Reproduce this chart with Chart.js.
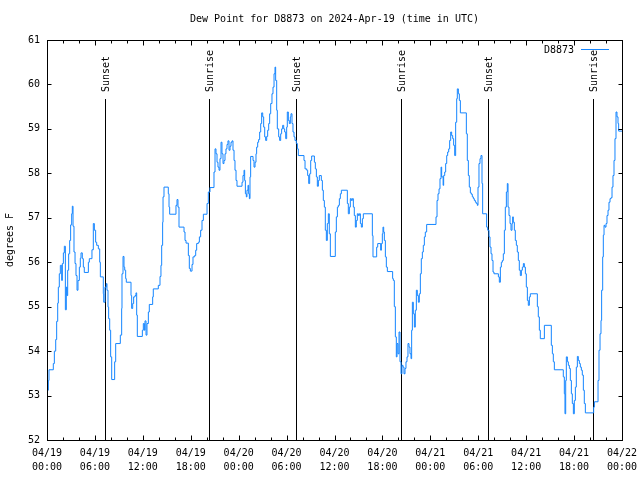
<!DOCTYPE html>
<html>
<head>
<meta charset="utf-8">
<script src="https://cdn.jsdelivr.net/npm/chart.js"></script>
<style>
  body { margin: 0; background: #fff; }
  canvas { display: block; }
</style>
</head>
<body>
<canvas id="dewChart" width="640" height="480"></canvas>
<script>
// hours since 04/19 00:00 UTC, and dew point (degrees F)
const hoursUTC = [
  0.08, 0.17, 0.25, 0.79, 0.92, 1.09, 1.21, 1.34, 1.42, 1.54, 1.67, 1.84, 1.92, 2.05, 2.17, 2.30, 2.42, 2.50, 2.59, 2.71,
  2.84, 2.96, 3.09, 3.17, 3.26, 3.38, 3.51, 3.63, 3.76, 3.88, 4.05, 4.17, 4.26, 4.42, 4.55, 4.67, 5.18, 5.30, 5.63, 5.80,
  5.93, 6.09, 6.22, 6.43, 6.60, 6.68, 7.05, 7.10, 7.26, 7.43, 7.51, 7.64, 7.72, 7.85, 7.97, 8.10, 8.47, 8.60, 9.18, 9.35,
  9.39, 9.52, 9.64, 9.73, 9.85, 9.93, 10.52, 10.60, 10.73, 10.85, 11.02, 11.14, 11.23, 11.31, 11.94, 12.06, 12.19, 12.27, 12.40, 12.52,
  12.69, 12.81, 13.23, 13.31, 13.94, 14.15, 14.27, 14.36, 14.48,
  14.53, 14.65, 15.19, 15.28, 15.36, 16.15, 16.28, 16.40, 16.53, 17.16, 17.28, 17.41, 17.70, 17.82, 17.95, 18.16, 18.28, 18.49, 18.62, 18.74,
  18.95, 19.08, 19.24, 19.41, 19.58, 20.04, 20.20, 20.41, 20.91, 21.04, 21.16, 21.29, 21.41, 21.54, 21.66, 21.79, 21.91, 22.04, 22.16, 22.29,
  22.41, 22.54, 22.66, 22.79, 22.92, 23.04, 23.17, 23.29, 23.42, 23.54, 23.67, 23.79, 24.42, 24.54, 24.67, 24.75, 24.84, 24.96, 25.04, 25.17,
  25.25, 25.34, 25.42, 25.50, 25.80, 25.92, 26.05, 26.17, 26.25, 26.38, 26.50, 26.63, 26.76, 26.88, 27.01, 27.13, 27.26, 27.38, 27.51, 27.63,
  27.76, 27.88, 28.01, 28.17, 28.30, 28.43, 28.55, 28.63, 28.76, 28.84,
  29.01, 29.13, 29.26, 29.38, 29.51, 29.64, 29.76, 29.89, 30.01, 30.09, 30.22, 30.34, 30.47, 30.55, 30.68, 30.80, 30.93, 31.05, 31.22, 31.35,
  31.47, 32.18, 32.31, 32.52, 32.64, 32.77, 32.89, 33.02, 33.14, 33.48, 33.60, 33.73, 33.85, 33.98, 34.10, 34.35, 34.48, 34.60, 34.73, 34.85,
  34.98, 35.10, 35.23, 35.35, 35.48, 36.10, 36.23, 36.36, 36.48, 36.61, 36.73, 36.86, 37.61, 37.73, 37.86, 37.98, 38.11, 38.23, 38.36, 38.48,
  38.61, 38.73, 38.86, 38.99, 39.11, 39.24, 39.36, 39.49, 39.61, 40.74, 40.82, 41.28, 41.41, 41.78, 41.87, 41.99, 42.07, 42.16, 42.24, 42.37,
  42.49, 42.62, 43.28,
  43.37, 43.49, 43.62, 43.74, 43.83, 43.95, 44.08, 44.20, 44.33, 44.45, 44.58, 44.70, 44.83, 44.95, 45.08, 45.20, 45.33, 45.45, 45.58, 45.66,
  45.75, 45.87, 46.00, 46.12, 46.25, 46.37, 46.50, 46.62, 46.75, 46.87, 47.00, 47.12, 47.25, 47.37, 47.54, 48.71, 48.84, 48.96, 49.09, 49.21,
  49.34, 49.42, 49.60, 49.67, 49.80, 49.92, 50.05, 50.17, 50.30, 50.42, 50.55, 50.67, 50.80, 50.92, 51.05, 51.17, 51.30, 51.38, 51.51, 51.63,
  51.76, 52.51, 52.63, 52.76, 52.88, 53.01, 53.13, 53.26, 53.39, 53.51, 53.64, 53.76, 53.89, 53.97, 54.09, 54.22, 54.34, 54.47, 54.55, 55.05,
  55.18, 55.35, 55.47, 55.60, 55.72, 55.85, 55.97, 56.52, 56.64, 56.77, 56.89, 57.02, 57.14, 57.27, 57.39, 57.52, 57.64,
  57.73, 57.85, 57.98, 58.10, 58.23, 58.31, 58.39, 58.52, 58.64, 58.77, 58.89, 59.02, 59.14, 59.27, 59.40, 59.52, 59.65, 59.77, 59.90, 60.02,
  60.15, 60.27, 60.40, 60.52, 61.40, 61.52, 61.65, 61.77, 62.28, 63.15, 63.28, 63.40, 63.53, 64.65, 64.78, 64.86, 64.95, 65.03, 65.16, 65.28,
  65.41, 65.53, 65.66, 65.78, 65.91, 66.03, 66.16, 66.28, 66.41, 66.53, 66.66, 66.78, 66.91, 67.03, 67.16, 67.28, 67.41, 68.45, 68.54, 69.00,
  69.12, 69.25, 69.37, 69.45, 69.58, 69.66, 69.75, 69.87, 70.00, 70.12, 70.25, 70.37, 70.50, 70.62, 70.75, 70.87, 71.00, 71.12, 71.25, 71.37,
  71.50, 71.58, 72.00
];
const dewPointF = [
  53.12, 53.34, 53.58, 53.72, 54.00, 54.26, 54.67, 55.08, 55.44, 55.74, 55.93, 55.59, 55.97, 56.21, 56.36, 54.93, 55.44, 55.25, 55.82, 56.19,
  56.49, 56.84, 57.09, 57.26, 56.81, 56.23, 55.97, 55.70, 55.37, 55.59, 55.89, 56.09, 56.21, 56.08, 55.89, 55.77, 56.00, 56.08, 56.28, 56.87,
  56.72, 56.45, 56.38, 56.30, 56.00, 55.67, 55.29, 55.10, 55.44, 55.52, 55.37, 54.99, 54.73, 54.47, 53.87, 53.36, 53.76, 54.17, 54.36, 54.96,
  55.74, 56.13, 55.89, 55.82, 55.63, 55.55, 55.25, 54.96, 55.07, 55.22, 55.25, 55.31, 54.81, 54.33, 54.47, 54.62, 54.47, 54.68, 54.36, 54.62,
  54.88, 55.05, 55.22, 55.40, 55.48, 55.68, 55.93, 56.38, 56.90,
  57.47, 57.69, 57.54, 57.24, 57.08, 57.28, 57.41, 57.24, 56.79, 56.68, 56.49, 56.43, 56.15, 55.86, 55.80, 55.95, 56.12, 56.15, 56.27, 56.42,
  56.45, 56.57, 56.72, 56.94, 57.08, 57.32, 57.58, 57.68, 58.03, 58.55, 58.44, 58.25, 58.14, 58.07, 58.33, 58.70, 58.44, 58.22, 58.29, 58.44,
  58.55, 58.65, 58.73, 58.52, 58.61, 58.70, 58.73, 58.52, 58.29, 58.07, 57.84, 57.71, 57.80, 57.95, 58.07, 57.84, 57.54, 57.47, 57.62, 57.73,
  57.54, 57.43, 57.92, 58.38, 58.29, 58.14, 58.25, 58.44, 58.59, 58.70, 58.76, 58.93, 59.12, 59.36, 59.27, 59.04, 58.82, 58.74, 58.83, 58.97,
  59.12, 59.34, 59.57, 59.79, 59.94, 60.24, 60.39, 60.09, 59.42, 59.00,
  58.82, 58.74, 58.89, 59.00, 59.08, 59.00, 58.93, 58.78, 59.04, 59.38, 59.19, 59.12, 59.27, 59.34, 59.12, 58.93, 58.82, 58.74, 58.67, 58.55,
  58.40, 58.29, 58.10, 58.07, 57.95, 57.77, 57.99, 58.29, 58.39, 58.25, 58.10, 57.92, 57.71, 57.84, 57.95, 57.84, 57.62, 57.39, 57.24, 56.72,
  56.49, 56.87, 57.09, 56.64, 56.13, 56.68, 57.02, 57.24, 57.28, 57.43, 57.54, 57.62, 57.32, 57.09, 57.24, 57.43, 57.39, 57.43, 57.24, 57.05,
  56.79, 56.94, 57.09, 57.05, 57.09, 56.87, 56.79, 56.98, 57.09, 56.60, 56.12, 56.34, 56.42, 56.27, 56.42, 56.64, 56.79, 56.68, 56.49, 56.12,
  55.89, 55.79, 55.63,
  55.59, 55.00, 54.32, 53.87, 54.17, 53.94, 54.43, 53.76, 53.49, 53.68, 53.64, 53.49, 53.61, 53.76, 53.87, 54.17, 54.09, 53.94, 53.83, 54.47,
  55.10, 54.84, 54.54, 54.92, 55.37, 55.25, 55.10, 55.29, 55.74, 56.08, 56.23, 56.38, 56.57, 56.68, 56.85, 57.02, 57.39, 57.54, 57.65, 57.88,
  58.14, 57.92, 57.73, 57.95, 58.03, 58.22, 58.40, 58.48, 58.55, 58.74, 58.93, 58.85, 58.78, 58.63, 58.40, 59.15, 59.68, 59.90, 59.79, 59.64,
  59.36, 58.89, 58.29, 57.95, 57.69, 57.56, 57.53, 57.47, 57.43, 57.39, 57.35, 57.32, 57.28, 57.69, 58.22, 58.33, 58.40, 57.77, 57.09, 56.79,
  56.72, 56.57, 56.34, 56.19, 56.04, 55.78, 55.74, 55.67, 55.55, 55.89, 56.00, 56.04, 56.19, 56.72, 57.24, 57.58, 57.77,
  57.24, 57.05, 56.87, 56.72, 56.87, 57.02, 56.90, 56.72, 56.49, 56.38, 56.23, 56.04, 55.82, 55.70, 55.82, 55.89, 55.97, 55.89, 55.74, 55.44,
  55.14, 55.03, 55.22, 55.29, 55.00, 54.77, 54.47, 54.28, 54.58, 54.13, 53.94, 53.76, 53.58, 53.42, 53.04, 52.59, 53.34, 53.87, 53.76, 53.68,
  53.61, 53.34, 53.04, 52.82, 52.59, 52.89, 53.19, 53.64, 53.88, 53.79, 53.72, 53.64, 53.57, 53.46, 53.12, 52.82, 52.61, 52.74, 52.86, 53.34,
  54.02, 54.39, 54.69, 55.37, 56.12, 56.61, 56.83, 56.79, 56.87, 57.05, 57.17, 57.35, 57.43, 57.45, 57.69, 57.95, 58.29, 58.78, 59.38, 59.27,
  59.12, 58.95, 58.95
];

// sunrise / sunset markers (hours since 04/19 00:00 UTC)
const sunHours = [7.26, 20.29, 31.18, 44.33, 55.22, 68.37];
const sunLabels = ["Sunset", "Sunrise", "Sunset", "Sunrise", "Sunset", "Sunrise"];

// x tick labels every 6 hours
const xTickLabels = [
  ["04/19", "00:00"], ["04/19", "06:00"], ["04/19", "12:00"], ["04/19", "18:00"],
  ["04/20", "00:00"], ["04/20", "06:00"], ["04/20", "12:00"], ["04/20", "18:00"],
  ["04/21", "00:00"], ["04/21", "06:00"], ["04/21", "12:00"], ["04/21", "18:00"],
  ["04/22", "00:00"]
];

const stationName = "D8873";
const chartTitle = "Dew Point for D8873 on 2024-Apr-19 (time in UTC)";

const FONT = "DejaVu Sans Mono";
const lineColor = "#1485ff";

Chart.defaults.font.family = FONT;
Chart.defaults.font.size = 10;
Chart.defaults.color = "#000";

const points = hoursUTC.map((h, i) => ({ x: h, y: dewPointF[i] }));

const gnuplotLook = {
  id: "gnuplotLook",
  beforeDatasetsDraw(chart) {
    const ctx = chart.ctx;
    const area = chart.chartArea;
    const xs = chart.scales.x;
    ctx.save();
    ctx.strokeStyle = "#000";
    ctx.lineWidth = 1;
    ctx.fillStyle = "#000";
    ctx.font = "10px " + FONT;
    sunHours.forEach((h, i) => {
      const px = Math.round(xs.getPixelForValue(h)) + 0.5;
      ctx.beginPath();
      ctx.moveTo(px, area.bottom);
      ctx.lineTo(px, area.top + 59);
      ctx.stroke();
      ctx.save();
      ctx.translate(px + 1, area.top + 52);
      ctx.rotate(-Math.PI / 2);
      ctx.textAlign = "left";
      ctx.textBaseline = "middle";
      ctx.fillText(sunLabels[i], 0, 0);
      ctx.restore();
    });
    ctx.restore();
  },
  afterDraw(chart) {
    const ctx = chart.ctx;
    const a = chart.chartArea;
    const xs = chart.scales.x;
    const ys = chart.scales.y;
    ctx.save();
    ctx.strokeStyle = "#000";
    ctx.lineWidth = 1;
    const L = Math.round(a.left) + 0.5, R = Math.round(a.right) + 0.5;
    const T = Math.round(a.top) + 0.5, B = Math.round(a.bottom) + 0.5;
    ctx.strokeRect(L, T, R - L, B - T);

    // inward tick marks on all four sides
    ctx.beginPath();
    xs.ticks.forEach(t => {
      const px = Math.round(xs.getPixelForValue(t.value)) + 0.5;
      const len = t.value % 6 === 0 ? 5 : 3;
      ctx.moveTo(px, B); ctx.lineTo(px, B - len);
      ctx.moveTo(px, T); ctx.lineTo(px, T + len);
    });
    ys.ticks.forEach(t => {
      const py = Math.round(ys.getPixelForValue(t.value)) + 0.5;
      ctx.moveTo(L, py); ctx.lineTo(L + 4, py);
      ctx.moveTo(R, py); ctx.lineTo(R - 4, py);
    });
    ctx.stroke();

    // title
    ctx.fillStyle = "#000";
    ctx.font = "10px " + FONT;
    ctx.textAlign = "center";
    ctx.textBaseline = "middle";
    ctx.fillText(chartTitle, (a.left + a.right) / 2, 19);

    // key, top right
    ctx.textAlign = "right";
    ctx.fillText(stationName, a.right - 48, a.top + 10);
    ctx.strokeStyle = lineColor;
    ctx.beginPath();
    ctx.moveTo(a.right - 41, a.top + 9.5);
    ctx.lineTo(a.right - 13, a.top + 9.5);
    ctx.stroke();
    ctx.restore();
  }
};

new Chart(document.getElementById("dewChart"), {
  type: "line",
  data: {
    datasets: [{
      label: stationName,
      data: points,
      borderColor: lineColor,
      borderWidth: 1,
      pointRadius: 0,
      stepped: true,
      fill: false
    }]
  },
  options: {
    responsive: false,
    animation: false,
    devicePixelRatio: 1,
    layout: { padding: { top: 40, right: 18, left: 0, bottom: 0 } },
    plugins: {
      legend: { display: false },
      tooltip: { enabled: false },
      title: { display: false }
    },
    scales: {
      x: {
        type: "linear",
        min: 0,
        max: 72,
        afterFit: s => { s.height = 40; s.paddingLeft = 0; s.paddingRight = 0; },
        grid: { display: false, drawTicks: false },
        border: { display: false },
        ticks: {
          stepSize: 2,
          autoSkip: false,
          maxRotation: 0,
          minRotation: 0,
          padding: 6,
          color: "#000",
          font: { family: FONT, size: 10, lineHeight: 1.4 },
          callback: v => (v % 6 === 0 ? xTickLabels[v / 6] : "")
        }
      },
      y: {
        min: 52,
        max: 61,
        afterFit: s => { s.width = 47; s.paddingTop = 0; s.paddingBottom = 0; },
        grid: { display: false, drawTicks: false },
        border: { display: false },
        ticks: {
          stepSize: 1,
          padding: 7,
          color: "#000",
          font: { family: FONT, size: 10 }
        },
        title: {
          display: true,
          text: "degrees F",
          color: "#000",
          font: { family: FONT, size: 10 },
          padding: { top: 4, bottom: 0 }
        }
      }
    }
  },
  plugins: [gnuplotLook]
});
</script>
</body>
</html>
